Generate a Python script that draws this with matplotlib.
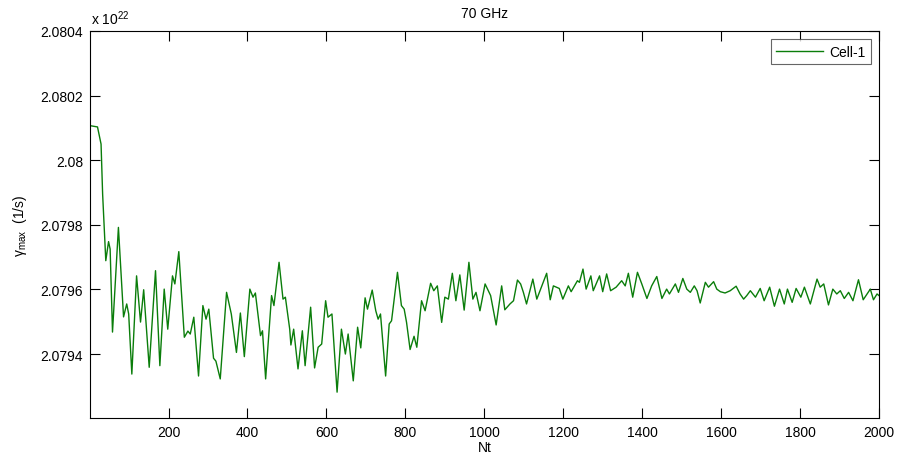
# -*- coding: utf-8 -*-
# gamma_max vs Nt, 70 GHz, Cell-1
import numpy as np
import matplotlib.pyplot as plt

plt.rcParams['font.family'] = ['Liberation Sans', 'DejaVu Sans']

# values (y in units of 1e22 1/s)
nt = [1, 20, 29, 33, 41, 48, 52, 58, 73, 86, 94, 99, 107, 119, 129, 137, 151, 167, 178, 189,
      198, 210, 216, 226, 240, 249, 255, 264, 276, 287, 295, 302, 314, 320, 331, 347, 359, 372, 382, 392,
      406, 414, 420, 427, 433, 438, 446, 461, 467, 480, 490, 496, 507, 510, 517, 528, 539, 546, 560, 570,
      579, 588, 598, 604, 614, 627, 638, 648, 655, 668, 679, 687, 698, 704, 716, 725, 731, 737, 750, 759,
      765, 780, 790, 797, 803, 812, 822, 829, 841, 850, 864, 872, 881, 892, 900, 909, 919, 928, 938, 949,
      961, 971, 979, 989, 1002, 1016, 1030, 1044, 1052, 1065, 1074, 1084, 1092, 1099, 1107, 1123, 1133, 1158, 1167, 1175,
      1190, 1199, 1213, 1220, 1236, 1241, 1250, 1258, 1270, 1276, 1292, 1300, 1310, 1320, 1334, 1348, 1357, 1365, 1376, 1388,
      1399, 1412, 1424, 1437, 1450, 1462, 1469, 1484, 1492, 1503, 1513, 1522, 1532, 1539, 1547, 1560, 1568, 1581, 1589, 1598,
      1610, 1623, 1638, 1648, 1657, 1665, 1674, 1687, 1699, 1709, 1723, 1735, 1748, 1760, 1768, 1780, 1790, 1802, 1811, 1826,
      1843, 1851, 1860, 1872, 1883, 1893, 1902, 1912, 1923, 1934, 1948, 1960, 1978, 1986, 1995, 2000]

gamma_max = [2.080107, 2.080103, 2.080050, 2.079895, 2.079689, 2.079748, 2.079725, 2.079468, 2.079792, 2.079515,
             2.079555, 2.079524, 2.079338, 2.079642, 2.079499, 2.079599, 2.079359, 2.079658, 2.079364, 2.079601,
             2.079477, 2.079642, 2.079617, 2.079717, 2.079452, 2.079471, 2.079462, 2.079514, 2.079332, 2.079550,
             2.079508, 2.079539, 2.079387, 2.079378, 2.079323, 2.079591, 2.079524, 2.079405, 2.079527, 2.079392,
             2.079601, 2.079576, 2.079589, 2.079519, 2.079457, 2.079472, 2.079323, 2.079581, 2.079550, 2.079684,
             2.079570, 2.079576, 2.079477, 2.079428, 2.079477, 2.079354, 2.079472, 2.079364, 2.079545, 2.079357,
             2.079421, 2.079431, 2.079565, 2.079514, 2.079524, 2.079282, 2.079477, 2.079400, 2.079462, 2.079317,
             2.079483, 2.079419, 2.079574, 2.079539, 2.079598, 2.079534, 2.079508, 2.079524, 2.079332, 2.079493,
             2.079503, 2.079653, 2.079550, 2.079539, 2.079498, 2.079414, 2.079455, 2.079421, 2.079565, 2.079534,
             2.079619, 2.079596, 2.079611, 2.079498, 2.079576, 2.079570, 2.079650, 2.079565, 2.079645, 2.079536,
             2.079684, 2.079570, 2.079591, 2.079534, 2.079617, 2.079581, 2.079490, 2.079611, 2.079537, 2.079555,
             2.079565, 2.079629, 2.079617, 2.079591, 2.079555, 2.079632, 2.079570, 2.079650, 2.079568, 2.079611,
             2.079603, 2.079570, 2.079611, 2.079593, 2.079627, 2.079622, 2.079663, 2.079601, 2.079642, 2.079596,
             2.079642, 2.079593, 2.079648, 2.079596, 2.079607, 2.079627, 2.079611, 2.079650, 2.079576, 2.079653,
             2.079617, 2.079572, 2.079611, 2.079640, 2.079572, 2.079601, 2.079586, 2.079617, 2.079591, 2.079634,
             2.079601, 2.079591, 2.079611, 2.079596, 2.079558, 2.079622, 2.079607, 2.079624, 2.079601, 2.079593,
             2.079589, 2.079596, 2.079610, 2.079586, 2.079570, 2.079581, 2.079596, 2.079576, 2.079603, 2.079565,
             2.079607, 2.079548, 2.079601, 2.079555, 2.079601, 2.079560, 2.079603, 2.079576, 2.079607, 2.079555,
             2.079632, 2.079607, 2.079617, 2.079552, 2.079601, 2.079586, 2.079596, 2.079572, 2.079591, 2.079565,
             2.079630, 2.079568, 2.079601, 2.079568, 2.079586, 2.079581]

xticks = [200, 400, 600, 800, 1000, 1200, 1400, 1600, 1800, 2000]
yticks = [2.0794, 2.0796, 2.0798, 2.0800, 2.0802, 2.0804]
ytick_labels = ['2.0794', '2.0796', '2.0798', '2.08', '2.0802', '2.0804']

label_size = 10
fig1 = plt.figure(figsize=(8.97, 4.64), dpi=100)
ax1 = fig1.add_axes([90/897., 45/464., 789/897., 387/464.])

ax1.plot(nt, gamma_max, color='#0a7d0a', linewidth=1.0, label='Cell-1')

ax1.set_xlim(1, 2000)
ax1.set_ylim(2.079202, 2.0804)
ax1.set_xticks(xticks)
ax1.set_xticklabels([str(t) for t in xticks])
ax1.set_yticks(yticks)
ax1.set_yticklabels(ytick_labels)
ax1.tick_params(direction='in', length=7, width=0.8, top=True, right=True,
                labelsize=label_size, pad=5)
for sp in ax1.spines.values():
    sp.set_linewidth(0.8)

ax1.set_title('70 GHz', fontsize=label_size, pad=10)
ax1.set_xlabel('Nt', fontsize=label_size, labelpad=1)
ax1.set_ylabel(r'γ$_{\mathregular{max}}$  (1/s)', fontsize=label_size, labelpad=8)
fig1.text(91/897., 1 - 25/464., r'x 10$^{\mathregular{22}}$', fontsize=label_size)

leg = ax1.legend(loc='upper right', fontsize=label_size, frameon=True, fancybox=False,
                 handlelength=3.4, borderpad=0.4, borderaxespad=0.6, handletextpad=0.4)
leg.get_frame().set_edgecolor('#404040')
leg.get_frame().set_linewidth(0.8)

plt.savefig('out.png', dpi=100)
